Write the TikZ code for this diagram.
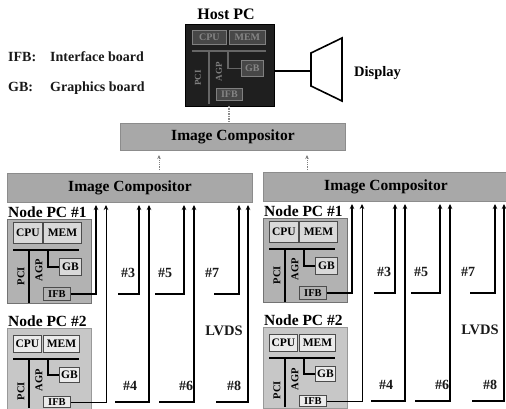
\documentclass[tikz,border=0pt]{standalone}
\usepackage{fontspec}
\setmainfont{Liberation Serif}
\usetikzlibrary{arrows.meta}
\tikzset{
  panel/.style={fill=black!30,draw=black!55,line width=1pt,inner sep=0pt,anchor=north west},
  comp/.style={panel,fill=black!34,draw=black!45,font=\bfseries\fontsize{15.5}{16}\selectfont},
  pcbox/.style={panel,fill=black!30,draw=black!55,line width=0.8pt},
  part/.style={panel,fill=black!15,draw=black!70,line width=0.9pt,font=\bfseries\fontsize{11.5}{12}\selectfont},
  bus/.style={line width=1.8pt,draw=black},
  lbl/.style={font=\bfseries\fontsize{14}{15}\selectfont,inner sep=0pt,text=black!90},
  legend/.style={font=\bfseries\fontsize{14}{15}\selectfont,inner sep=0pt,text=black!90},
  big/.style={font=\bfseries\fontsize{14.5}{15}\selectfont,inner sep=0pt},
  nodelab/.style={inner sep=0pt,anchor=west,font=\bfseries\fontsize{15.5}{16}\selectfont},
  vert/.style={font=\bfseries\fontsize{10.5}{11}\selectfont,inner sep=0pt,rotate=90},
  lvds/.style={line width=1.4pt,-{Stealth[length=5pt,width=4.5pt]}},
  lvdsthin/.style={line width=0.9pt,-{Stealth[length=5pt,width=4.5pt]}},
  dim/.style={panel,fill=black!72,draw=black!50,line width=0.8pt,text=black!48,font=\bfseries\fontsize{10}{11}\selectfont},
  busdim/.style={line width=1.6pt,draw=black!60},
}
\newcommand{\nodepcA}[2]{%
  \node[nodelab] (#1lab) at (8,212) {Node PC \##2};
  \node[pcbox,minimum width=84pt,minimum height=84pt] (#1box) at (7,219) {};
  \node[part,minimum width=29pt,minimum height=21pt] (#1cpu) at (13,222) {CPU};
  \node[part,minimum width=38pt,minimum height=21pt] (#1mem) at (43,222) {MEM};
  \coordinate (#1bl) at (13,250); \coordinate (#1br) at (79,250);
  \draw[bus] (#1bl) -- (#1br);
  \coordinate (#1v) at (29,250); \coordinate (#1vb) at (29,303);
  \draw[bus] (#1v) -- (#1vb);
  \coordinate (#1a) at (48,250);
  \node[part,minimum width=22pt,minimum height=17pt] (#1gb) at (59,258) {GB};
  \draw[bus] (#1a) |- (#1gb.west);
  \node[part,minimum width=27pt,minimum height=13pt,fill=black!30,font=\bfseries\fontsize{10.5}{11}\selectfont] (#1ifb) at (43,287) {IFB};
  \node[vert] (#1pci) at (21,276) {PCI};
  \node[vert] (#1agp) at (39,270) {AGP};
}
\newcommand{\nodepcB}[2]{%
  \node[nodelab] (#1lab) at (8,321) {Node PC \##2};
  \node[pcbox,fill=black!22,draw=black!40,minimum width=84pt,minimum height=81pt] (#1box) at (7,328) {};
  \node[part,fill=black!8,minimum width=28pt,minimum height=17pt] (#1cpu) at (13,335) {CPU};
  \node[part,fill=black!8,minimum width=36pt,minimum height=17pt] (#1mem) at (43,335) {MEM};
  \coordinate (#1bl) at (13,359); \coordinate (#1br) at (79,359);
  \draw[bus] (#1bl) -- (#1br);
  \coordinate (#1v) at (29,359); \coordinate (#1vb) at (29,408);
  \draw[bus] (#1v) -- (#1vb);
  \coordinate (#1a) at (48,359);
  \node[part,fill=black!8,minimum width=20pt,minimum height=15pt] (#1gb) at (59,367) {GB};
  \draw[bus] (#1a) |- (#1gb.west);
  \node[part,fill=black!8,minimum width=27pt,minimum height=11pt,font=\bfseries\fontsize{10.5}{11}\selectfont] (#1ifb) at (43,396) {IFB};
  \node[vert] (#1pci) at (21,391) {PCI};
  \node[vert] (#1agp) at (39,380) {AGP};
}
\newcommand{\cabinet}[1]{%
  \node[comp,minimum width=245pt,minimum height=29pt] (#1c) at (7,173) {Image Compositor};
  \nodepcA{#1p}{1}
  \nodepcB{#1q}{2}
  \coordinate (#1t1) at (96,205);  \coordinate (#1t2) at (106,205);
  \coordinate (#1t3) at (139,205); \coordinate (#1t4) at (149,205);
  \coordinate (#1t5) at (184,205); \coordinate (#1t6) at (194,205);
  \coordinate (#1t7) at (239,205); \coordinate (#1t8) at (248,205);
  \coordinate (#1s3) at (118,294); \coordinate (#1s4) at (115,402);
  \coordinate (#1s5) at (155,294); \coordinate (#1s6) at (159,402);
  \coordinate (#1s7) at (214,294); \coordinate (#1s8) at (216,402);
  \draw[lvds] (#1pifb.east) -| (#1t1);
  \draw[lvdsthin] (#1qifb.east) -| (#1t2);
  \foreach \n in {3,...,8} {\draw[lvds] (#1s\n) -| (#1t\n);}
  \node[lbl] (#1l3) at (128,273) {\#3};
  \node[lbl] (#1l5) at (165,273) {\#5};
  \node[lbl] (#1l7) at (212,273) {\#7};
  \node[lbl] (#1l4) at (130,386) {\#4};
  \node[lbl] (#1l6) at (186,386) {\#6};
  \node[lbl] (#1l8) at (234,386) {\#8};
  \node[lbl,font=\bfseries\fontsize{14.5}{15}\selectfont] (#1lv) at (224,331) {LVDS};
}
\begin{document}
\begin{tikzpicture}[x=1pt,y=-1pt]
\useasboundingbox (0,0) rectangle (506,409);
\fill[white] (0,0) rectangle (506,409);
% legend
\node[legend,anchor=base west] (leg1) at (8,62) {IFB:};
\node[legend,anchor=base west] (leg1t) at (50,62) {Interface board};
\node[legend,anchor=base west] (leg2) at (8,92) {GB:};
\node[legend,anchor=base west] (leg2t) at (50,92) {Graphics board};
% host
\node[big,font=\bfseries\fontsize{16}{17}\selectfont] (hostl) at (226,14) {Host PC};
\node[panel,fill=black!88,draw=black,minimum width=89pt,minimum height=82pt] (host) at (185,24) {};
\node[dim,minimum width=34pt,minimum height=14pt] (hcpu) at (192,30) {CPU};
\node[dim,minimum width=36pt,minimum height=14pt] (hmem) at (229,30) {MEM};
\coordinate (hb1) at (192,51); \coordinate (hb2) at (266,51);
\draw[busdim] (hb1) -- (hb2);
\coordinate (hv1) at (209,51); \coordinate (hv2) at (209,104);
\draw[busdim] (hv1) -- (hv2);
\coordinate (ha1) at (228,51);
\node[dim,minimum width=22pt,minimum height=16pt] (hgb) at (241,60) {GB};
\draw[busdim] (ha1) |- (hgb.west);
\node[dim,minimum width=26pt,minimum height=12pt] (hifb) at (216,88) {IFB};
\node[vert,text=black!50,font=\bfseries\fontsize{9}{10}\selectfont] (hpci) at (198,78) {PCI};
\node[vert,text=black!50,font=\bfseries\fontsize{9}{10}\selectfont] (hagp) at (219,72) {AGP};
% display
\draw[line width=1.6pt,fill=white] (311,53) coordinate (d1) -- (342,38) -- (342,101) -- (311,86) -- cycle;
\coordinate (dm) at (311,71);
\draw[line width=1.8pt] (host.east |- dm) -- (dm);
\node[big,anchor=west] (displ) at (354,73) {Display};
% top compositor
\node[comp,minimum width=225pt,minimum height=27pt] (top) at (120,123) {Image Compositor};
\draw[line width=1.5pt,draw=black!45,densely dotted] (229,106) -- (229,123);
% cabinets
\begin{scope}
\cabinet{L}
\end{scope}
\begin{scope}[shift={(256,-1)}]
\cabinet{R}
\end{scope}
% dotted arrows to the top compositor
\coordinate (a1) at (159,170); \coordinate (a1t) at (159,155);
\coordinate (a2) at (307,170); \coordinate (a2t) at (307,155);
\draw[draw=black!50,densely dotted,line width=0.8pt,-{Stealth[length=4pt,width=3.5pt]}] (a1) -- (a1t);
\draw[draw=black!50,densely dotted,line width=0.8pt,-{Stealth[length=4pt,width=3.5pt]}] (a2) -- (a2t);
\end{tikzpicture}
\end{document}
